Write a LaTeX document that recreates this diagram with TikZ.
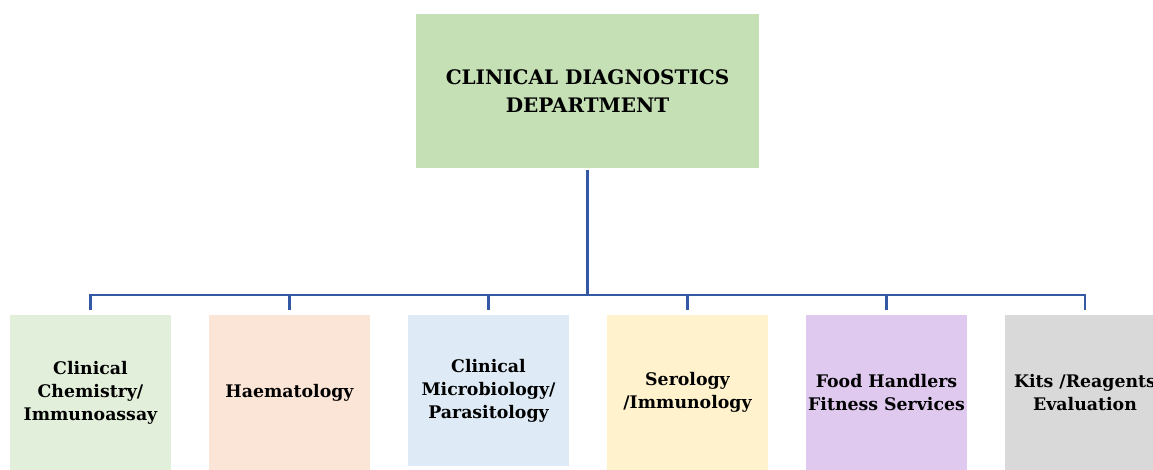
\documentclass[tikz,border=0pt]{standalone}
\usepackage{fontspec}
\setmainfont{DejaVu Serif}
\definecolor{headgreen}{HTML}{C5E0B4}
\definecolor{chemgreen}{HTML}{E2EFDA}
\definecolor{haempeach}{HTML}{FBE5D6}
\definecolor{microblue}{HTML}{DEEBF7}
\definecolor{seroyellow}{HTML}{FFF2CC}
\definecolor{foodlilac}{HTML}{DFC9EE}
\definecolor{kitsgrey}{HTML}{D9D9D9}
\definecolor{linkblue}{HTML}{3458A4}
\tikzset{
	unitbox/.style={minimum width=120.75pt,minimum height=116.25pt,align=center,
		font=\bfseries\fontsize{13}{17.25}\selectfont,inner sep=0pt},
	link/.style={draw=linkblue,line width=1.8pt}
}
\begin{document}
\begin{tikzpicture}[x=.75pt,y=-.75pt]
	\useasboundingbox(0,0)rectangle(1153,470);
	\node[unitbox,fill=headgreen,minimum width=257.25pt,minimum height=115.5pt,
		font=\bfseries\fontsize{15}{21}\selectfont](dept)at(587.5,91)
		{CLINICAL DIAGNOSTICS\\DEPARTMENT};
	\node[unitbox,fill=chemgreen](u1)at(90.5,392.5){Clinical\\Chemistry/\\Immunoassay};
	\node[unitbox,fill=haempeach](u2)at(289.5,392.5){Haematology};
	\node[unitbox,fill=microblue,minimum height=113.25pt](u3)at(488.5,390.5){Clinical\\Microbiology/\\Parasitology};
	\node[unitbox,fill=seroyellow](u4)at(687.5,392.5){Serology\\/Immunology};
	\node[unitbox,fill=foodlilac](u5)at(886.5,392.5){Food Handlers\\Fitness Services};
	\node[unitbox,fill=kitsgrey](u6)at(1085,392.5){Kits /Reagents\\Evaluation};
	\coordinate(bus)at(588,295);
	% trunk and bus bar
	\draw[link,shorten <=1.5pt](dept.south)--(dept.south|-bus);
	\draw[link,line cap=rect](u1|-bus)--(u6|-bus);
	\foreach \i in {1,...,6}
		\draw[link,shorten >=3.75pt](u\i|-bus)--(u\i.north);
\end{tikzpicture}
\end{document}
